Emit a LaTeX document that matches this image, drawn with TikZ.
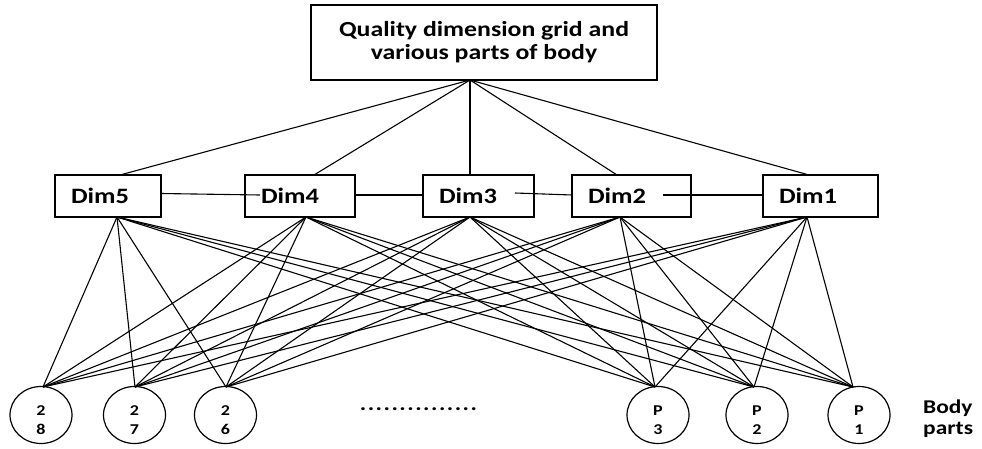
\documentclass[tikz,border=0pt]{standalone}
\usepackage{fontspec}
\setmainfont{Carlito}[FakeStretch=1.2]
\usetikzlibrary{shapes.geometric}
\newcommand\dotsep{\kern1.5pt}
\tikzset{
  conn/.style={line width=1.1pt},
  dimbox/.style={draw, line width=1.3pt, minimum height=42pt, inner ysep=0pt, inner xsep=16pt, align=left, font=\fontsize{22}{24}\selectfont\bfseries},
  topbox/.style={draw, line width=1.3pt, minimum width=346pt, minimum height=75pt, align=center, font=\fontsize{21.5}{23}\selectfont\bfseries},
  part/.style={draw, ellipse, line width=1.2pt, minimum width=62pt, minimum height=57pt, inner sep=0pt},
  partlbl/.style={align=center, inner sep=0pt, font=\fontsize{15}{18.5}\selectfont\bfseries},
  side/.style={inner sep=0pt, anchor=base west, font=\fontsize{19.5}{20}\selectfont\bfseries}
}
\begin{document}
\begin{tikzpicture}[x=1pt,y=-1pt]
\useasboundingbox (0,0) rectangle (982,449);
% top node
\node[topbox] (q) at (484,42.5) {Quality dimension grid and\\various parts of body};
\coordinate (qb) at (470,80);
% dimension boxes
\node[dimbox, text width=74pt] (d5) at (108,196) {Dim5};
\node[dimbox, text width=78pt] (d4) at (300,196) {Dim4};
\node[dimbox, text width=79pt] (d3) at (478.5,196) {Dim3};
\node[dimbox, text width=87pt] (d2) at (631.5,196) {Dim2};
\node[dimbox, text width=83pt] (d1) at (820.5,196) {Dim1};
% attachment points
\coordinate (d5t) at (120,175); \coordinate (d4t) at (314,175); \coordinate (d3t) at (470,175);
\coordinate (d2t) at (617,175); \coordinate (d1t) at (809,175);
\coordinate (d5b) at (117,217); \coordinate (d4b) at (306,217); \coordinate (d3b) at (470,217);
\coordinate (d2b) at (620,217); \coordinate (d1b) at (807,217);
% horizontal links
\coordinate (h1a) at (161,193.5); \coordinate (h1b) at (260,195);
\coordinate (h2a) at (355,195);   \coordinate (h2b) at (423,195);
\coordinate (h3a) at (515,193);   \coordinate (h3b) at (572,195);
\coordinate (h4a) at (663,195);   \coordinate (h4b) at (763,195);
\draw[conn] (h1a) -- (h1b);
\draw[conn] (h2a) -- (h2b);
\draw[conn] (h3a) -- (h3b);
\draw[conn] (h4a) -- (h4b);
% top connectors
\foreach \d in {d5t,d4t,d3t,d2t,d1t} \draw[conn] (qb) -- (\d);
% body parts
\node[part] (e28) at (41,415) {};
\node[part] (e27) at (134.5,415) {};
\node[part] (e26) at (225.5,415) {};
\node[part] (ep3) at (658,415) {};
\node[part] (ep2) at (757,415) {};
\node[part] (ep1) at (859,415) {};
\node[partlbl] (t28) at (41,420) {2\\8};
\node[partlbl] (t27) at (134.5,420) {2\\7};
\node[partlbl] (t26) at (225.5,420) {2\\6};
\node[partlbl] (tp3) at (658,420) {P\\3};
\node[partlbl] (tp2) at (757,420) {P\\2};
\node[partlbl] (tp1) at (859,420) {P\\1};
\coordinate (c28) at (43,387); \coordinate (c27) at (135,387); \coordinate (c26) at (226,387);
\coordinate (cp3) at (655,387); \coordinate (cp2) at (754,387); \coordinate (cp1) at (853,387);
% bipartite connectors
\foreach \d in {d5b,d4b,d3b,d2b,d1b}
  \foreach \c in {c28,c27,c26,cp3,cp2,cp1}
    \draw[conn] (\d) -- (\c);
% dots and side label
\node[inner sep=0pt, font=\fontsize{20}{20}\selectfont\bfseries] (dots) at (418.5,409) {.\dotsep.\dotsep.\dotsep.\dotsep.\dotsep.\dotsep.\dotsep.\dotsep.\dotsep.\dotsep.\dotsep.\dotsep.\dotsep.\dotsep.};
\node[side] (body) at (923,413) {Body};
\node[side] (parts) at (923,434) {parts};
\end{tikzpicture}
\end{document}
